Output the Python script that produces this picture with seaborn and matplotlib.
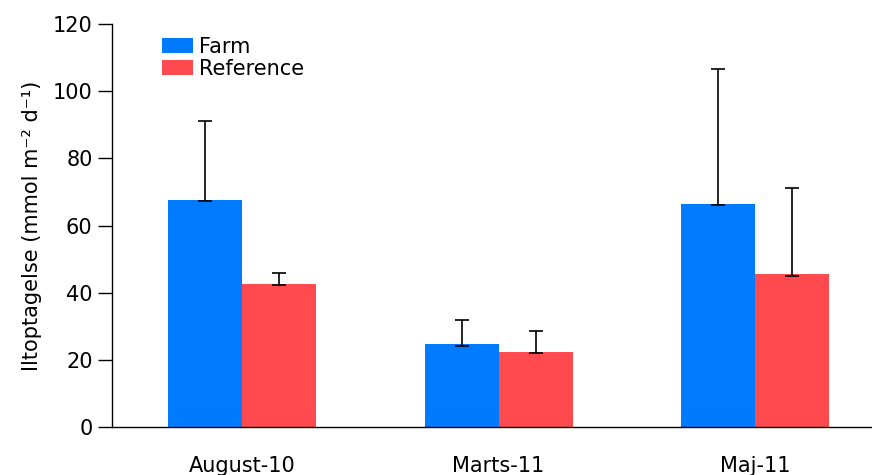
import matplotlib
matplotlib.use("Agg")
import matplotlib.pyplot as plt
import seaborn as sns
import pandas as pd

# Oxygen uptake per sampling campaign
campaigns = ["August-10", "Marts-11", "Maj-11"]
groups = ["Farm", "Reference"]
farm_mean = [67.6, 24.6, 66.5]
farm_err = [23.2, 6.9, 39.8]
ref_mean = [42.6, 22.5, 45.5]
ref_err = [3.0, 5.6, 25.2]
y_ticks = [0, 20, 40, 60, 80, 100, 120]

colors = {"Farm": "#007BFF", "Reference": "#FF4B4F"}

df = pd.DataFrame({
    "campaign": campaigns * 2,
    "group": ["Farm"] * 3 + ["Reference"] * 3,
    "value": farm_mean + ref_mean,
    "err": farm_err + ref_err,
})

sns.set_style("white")
plt.rcParams["font.family"] = ["DejaVu Sans"]
plt.rcParams["text.color"] = "black"
plt.rcParams["axes.labelcolor"] = "black"
plt.rcParams["xtick.color"] = "black"
plt.rcParams["ytick.color"] = "black"

fig = plt.figure(figsize=(8.72, 4.75), dpi=100)
ax = fig.add_axes([0.1284, 0.101, 0.8716, 0.848])

sns.barplot(data=df, x="campaign", y="value", hue="group", order=campaigns,
            hue_order=groups, palette=colors, width=0.577, errorbar=None,
            saturation=1, linewidth=0, ax=ax, zorder=2)

# One-sided (upward) error bars with caps at both ends
for container, grp in zip(ax.containers, groups):
    sub = df[df["group"] == grp].set_index("campaign").loc[campaigns]
    xs = [p.get_x() + p.get_width() / 2 for p in container.patches]
    ax.errorbar(xs, sub["value"].values,
                yerr=[[0.4] * len(xs), sub["err"].values + 0.4],
                fmt="none", ecolor="black", elinewidth=1.2, capsize=5,
                capthick=1.2, zorder=3)

ax.set_xlim(-0.507, 2.456)
ax.set_ylim(0, 120)
ax.set_yticks(y_ticks)
ax.tick_params(axis="y", which="major", direction="out", length=10, width=1,
               color="black", labelcolor="black", labelsize=15, pad=4,
               left=True)
ax.tick_params(axis="x", length=0, labelsize=15, labelcolor="black", pad=21)
ax.set_xlabel("")
ax.set_ylabel("Iltoptagelse (mmol m⁻² d⁻¹)", fontsize=15, labelpad=8,
              color="black")

for side in ["top", "right"]:
    ax.spines[side].set_visible(False)
for side in ["left", "bottom"]:
    ax.spines[side].set_color("black")
    ax.spines[side].set_linewidth(1)

leg = ax.legend(loc="upper left", bbox_to_anchor=(0.05, 1.0), frameon=False,
                fontsize=15, handlelength=1.45, handleheight=0.7,
                handletextpad=0.3, labelspacing=0.1, borderaxespad=0.2)
for t in leg.get_texts():
    t.set_color("black")

fig.savefig("out.png", dpi=100)
